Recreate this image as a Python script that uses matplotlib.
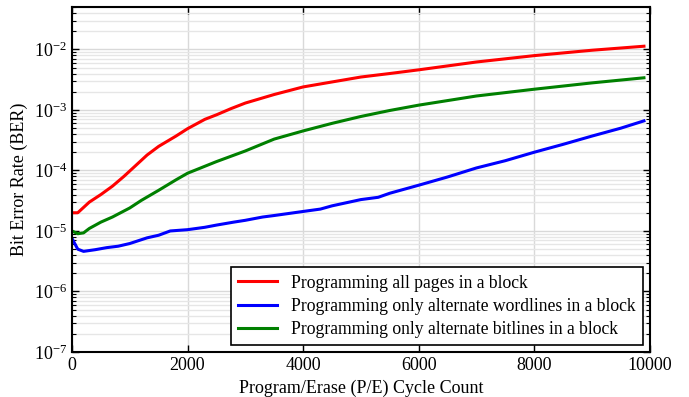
import numpy as np
from matplotlib import pyplot as plt
from matplotlib.ticker import LogLocator

plt.rcParams['font.family'] = 'Liberation Serif'
plt.rcParams['mathtext.fontset'] = 'custom'
plt.rcParams['mathtext.rm'] = 'Liberation Serif'
plt.rcParams['mathtext.it'] = 'Liberation Serif:italic'

# P/E cycles and BER values
pe_red = [0, 100, 300, 500, 700, 900, 1100, 1300, 1500, 1800, 2000, 2300, 2500, 2750,
          3000, 3500, 4000, 4500, 5000, 5500, 6000, 7000, 8000, 9000, 9900]
ber_red = [2.0e-5, 2.0e-5, 3.0e-5, 4.0e-5, 5.5e-5, 8e-5, 1.2e-4, 1.8e-4, 2.5e-4, 3.7e-4,
           4.9e-4, 7e-4, 8.3e-4, 1.05e-3, 1.3e-3, 1.8e-3, 2.4e-3, 2.9e-3, 3.5e-3, 4.0e-3,
           4.6e-3, 6.2e-3, 7.9e-3, 9.7e-3, 1.13e-2]

pe_green = [0, 100, 200, 300, 500, 700, 1000, 1200, 1500, 1800, 2000, 2500, 3000, 3500,
            4000, 4500, 5000, 5500, 6000, 7000, 8000, 9000, 9900]
ber_green = [1.0e-5, 9e-6, 9.3e-6, 1.1e-5, 1.4e-5, 1.7e-5, 2.4e-5, 3.2e-5, 4.7e-5, 7e-5,
             9e-5, 1.4e-4, 2.1e-4, 3.3e-4, 4.5e-4, 6.0e-4, 7.8e-4, 9.8e-4, 1.2e-3, 1.7e-3,
             2.2e-3, 2.8e-3, 3.4e-3]

pe_blue = [0, 100, 200, 400, 600, 800, 1000, 1300, 1500, 1700, 2000, 2300, 2500, 2800,
           3000, 3300, 3500, 4000, 4300, 4500, 5000, 5300, 5500, 6000, 6500, 7000, 7500,
           8000, 8500, 9000, 9500, 9900]
ber_blue = [7.5e-6, 5e-6, 4.6e-6, 4.9e-6, 5.3e-6, 5.6e-6, 6.2e-6, 7.7e-6, 8.5e-6, 1.0e-5,
            1.05e-5, 1.15e-5, 1.25e-5, 1.4e-5, 1.5e-5, 1.7e-5, 1.8e-5, 2.1e-5, 2.3e-5, 2.6e-5,
            3.3e-5, 3.6e-5, 4.2e-5, 5.7e-5, 7.8e-5, 1.1e-4, 1.45e-4, 2.0e-4, 2.7e-4, 3.7e-4,
            5.0e-4, 6.6e-4]

labels = ['Programming all pages in a block',
          'Programming only alternate wordlines in a block',
          'Programming only alternate bitlines in a block']

fig = plt.figure(figsize=(6.89, 3.97), dpi=100)
ax = fig.add_axes([0.1045, 0.1134, 0.8385, 0.8686])

ax.plot(pe_red, ber_red, color='#ff0000', lw=2.2, label=labels[0])
ax.plot(pe_blue, ber_blue, color='#0000ff', lw=2.2, label=labels[1])
ax.plot(pe_green, ber_green, color='#008000', lw=2.2, label=labels[2])

ax.set_yscale('log')
ax.set_xlim(0, 10000)
ax.set_ylim(1e-7, 5e-2)
ax.set_xticks([0, 2000, 4000, 6000, 8000, 10000])
ax.yaxis.set_major_locator(LogLocator(base=10, numticks=10))
ax.yaxis.set_minor_locator(LogLocator(base=10, subs=np.arange(2, 10), numticks=20))

ax.grid(True, which='major', color='#d9d9d9', lw=1)
ax.grid(True, which='minor', axis='y', color='#e6e6e6', lw=1)
ax.set_axisbelow(True)

ax.tick_params(which='both', direction='in', top=True, right=True, labelsize=13)
ax.tick_params(which='major', length=5, width=1)
ax.tick_params(which='minor', length=3, width=0.8)
for s in ax.spines.values():
    s.set_linewidth(1.5)

ax.set_xlabel('Program/Erase (P/E) Cycle Count', fontsize=13)
ax.set_ylabel('Bit Error Rate (BER)', fontsize=13)

leg = ax.legend(loc='lower right', fontsize=12.7, fancybox=False, framealpha=1,
                edgecolor='black', handlelength=2.2, borderaxespad=0.4,
                labelspacing=0.35)
leg.get_frame().set_linewidth(1.2)

plt.savefig('out.png', dpi=100)
